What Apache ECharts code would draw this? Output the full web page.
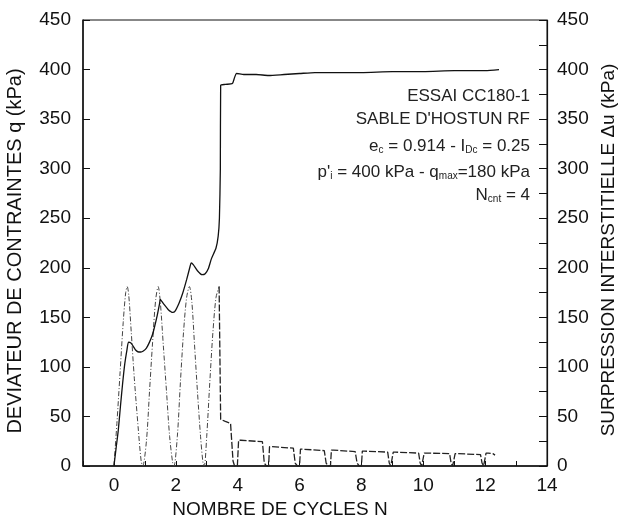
<!DOCTYPE html>
<html>
<head>
<meta charset="utf-8">
<script src="https://cdn.jsdelivr.net/npm/echarts@6/dist/echarts.min.js"></script>
<style>
  html, body { margin: 0; padding: 0; background: #fff; }
  #main { width: 619px; height: 522px; }
</style>
</head>
<body>
<div id="main"></div>
<script>
// Nombre de cycles N / déviateur q (kPa), partie cyclique
var qCyclesN = [0, 0.1, 0.2, 0.3, 0.38, 0.43, 0.48, 0.56, 0.66, 0.78, 0.88, 0.93,
    1.05, 1.15, 1.25, 1.35, 1.43, 1.5, 1.6, 1.7, 1.8, 1.9, 1.94,
    2.05, 2.15, 2.25, 2.35, 2.44, 2.52, 2.6, 2.7, 2.8, 2.88, 2.92,
    3.0, 3.1, 3.2, 3.3, 3.4];
var qCycles = [0, 45, 95, 145, 175, 181, 172, 135, 88, 40, 5, 0,
    25, 75, 125, 168, 181, 165, 120, 75, 30, 3, 0,
    30, 85, 135, 170, 181, 165, 125, 75, 30, 3, 0,
    30, 85, 135, 170, 181];

// déviateur après liquéfaction (paliers)
var qStepsN = [3.4, 3.45, 3.6, 3.77, 3.85, 3.9, 3.99,
    4.03, 4.1, 4.8, 4.86, 4.93, 5.0,
    5.03, 5.1, 5.8, 5.86, 5.93, 6.0,
    6.03, 6.1, 6.8, 6.86, 6.93, 7.0,
    7.03, 7.1, 7.8, 7.86, 7.93, 8.0,
    8.03, 8.1, 8.85, 8.9, 8.95, 9.0,
    9.03, 9.1, 9.85, 9.9, 9.95, 10.0,
    10.03, 10.1, 10.85, 10.9, 10.95, 11.0,
    11.03, 11.1, 11.85, 11.9, 11.95, 12.0,
    12.03, 12.1, 12.25, 12.32];
var qSteps = [181, 47, 45, 43, 5, 0, 0,
    26, 26, 24.5, 3, 0, 0,
    19.5, 19.5, 18, 3, 0, 0,
    17, 17, 15.5, 3, 0, 0,
    16, 16, 14.5, 3, 0, 0,
    15, 15, 14, 3, 0, 0,
    14, 14, 13, 3, 0, 0,
    13, 13, 12.5, 3, 0, 0,
    12.5, 12.5, 11.5, 3, 0, 0,
    13, 13, 12.5, 11];

// surpression interstitielle du (kPa)
var duN = [0, 0.07, 0.14, 0.21, 0.28, 0.35, 0.42, 0.47, 0.55, 0.62, 0.7, 0.8, 0.87,
    0.95, 1.05, 1.15, 1.25, 1.31, 1.4, 1.47, 1.5, 1.55, 1.62, 1.75, 1.9, 1.97,
    2.1, 2.22, 2.35, 2.45, 2.5, 2.57, 2.7, 2.85, 2.95, 3.05, 3.15, 3.3, 3.37,
    3.41, 3.44, 3.45, 3.6, 3.83, 3.9, 3.96, 4.2, 4.6, 5.0, 5.5, 6.0, 6.5, 7.0,
    8.0, 9.0, 10.0, 11.0, 12.0, 12.45];
var du = [0, 18, 36, 60, 83, 103, 117, 125, 124, 121, 117, 115, 115,
    116, 119, 125, 133, 140, 152, 163, 168, 166, 163, 158, 155, 156,
    164, 174, 188, 200, 205, 203, 197, 193, 194, 199, 209, 220, 232,
    250, 300, 384, 385, 386, 392, 396, 395, 395, 394, 395, 396, 397, 397,
    397, 398, 398, 399, 399, 400];

var xTicks = [0, 2, 4, 6, 8, 10, 12, 14];

// texte de l'essai, une ligne par élément
var infoLines = [
    'ESSAI CC180-1',
    'SABLE D\'HOSTUN RF',
    'e{s|c} = 0.914 - I{s|Dc} = 0.25',
    'p\'{s|i} = 400 kPa - q{s|max}=180 kPa',
    'N{s|cnt} = 4'
];
var infoY = [96, 119, 146, 172, 195];

function pairs(xs, ys) {
    return xs.map(function (x, i) { return [x, ys[i]]; });
}

var myChart = echarts.init(document.getElementById('main'));
var font = '"Liberation Sans", Arial, sans-serif';

var option = {
    animation: false,
    backgroundColor: '#fff',
    grid: {
        left: 83, right: 72, top: 20, bottom: 56,
        outerBoundsMode: 'none',
        show: true, borderColor: '#111', borderWidth: 1
    },
    xAxis: {
        type: 'value',
        min: -1, max: 14, interval: 1,
        name: 'NOMBRE DE CYCLES N',
        nameLocation: 'middle',
        nameGap: 30,
        nameTextStyle: { fontFamily: font, fontSize: 19, color: '#111', padding: [0, 70, 0, 0] },
        axisLine: { onZero: false, lineStyle: { color: '#111', width: 1.5 } },
        axisTick: { inside: true, length: 5, lineStyle: { color: '#111' } },
        axisLabel: {
            fontFamily: font, fontSize: 19, color: '#111', margin: 10,
            formatter: function (v) { return xTicks.indexOf(v) >= 0 ? String(v) : ''; }
        },
        splitLine: { show: false }
    },
    yAxis: [
        {
            type: 'value',
            min: 0, max: 450, interval: 50,
            name: 'DEVIATEUR DE CONTRAINTES q (kPa)',
            nameLocation: 'middle',
            nameGap: 58,
            nameTextStyle: { fontFamily: font, fontSize: 20, color: '#111', padding: [0, 16, 0, 0] },
            axisLine: { show: true, onZero: false, lineStyle: { color: '#111', width: 1.5 } },
            axisTick: { show: true, inside: true, length: 7, lineStyle: { color: '#111' } },
            axisLabel: { fontFamily: font, fontSize: 19, color: '#111', margin: 12 },
            splitLine: { show: false }
        },
        {
            type: 'value',
            position: 'right',
            min: 0, max: 450, interval: 25,
            name: 'SURPRESSION INTERSTITIELLE \u0394u (kPa)',
            nameLocation: 'middle',
            nameGap: 50,
            nameTextStyle: { fontFamily: font, fontSize: 19, color: '#111', padding: [0, 14, 0, 0] },
            axisLine: { show: true, onZero: false, lineStyle: { color: '#111', width: 1.2 } },
            axisTick: { show: true, inside: true, length: 8, lineStyle: { color: '#111' } },
            axisLabel: {
                fontFamily: font, fontSize: 19, color: '#111', margin: 10,
                formatter: function (v) { return v % 50 === 0 ? String(v) : ''; }
            },
            splitLine: { show: false }
        }
    ],
    graphic: infoLines.map(function (t, i) {
        return {
            type: 'text',
            x: 530,
            y: infoY[i],
            style: {
                text: t,
                font: '17px ' + font,
                fill: '#222',
                align: 'right',
                verticalAlign: 'middle',
                rich: {
                    s: { fontSize: 10, fontFamily: font, fill: '#222', padding: [8, 0, 0, 0] }
                }
            }
        };
    }),
    series: [
        {
            name: 'q',
            type: 'line',
            yAxisIndex: 0,
            data: pairs(qCyclesN, qCycles),
            smooth: 0.3,
            showSymbol: false,
            lineStyle: { color: '#444', width: 1, type: [5, 2, 1, 2] }
        },
        {
            name: 'q paliers',
            type: 'line',
            yAxisIndex: 0,
            data: pairs(qStepsN, qSteps),
            showSymbol: false,
            lineStyle: { color: '#222', width: 1.3, type: [7, 2] }
        },
        {
            name: '\u0394u',
            type: 'line',
            yAxisIndex: 1,
            data: pairs(duN, du),
            smooth: 0.2,
            showSymbol: false,
            lineStyle: { color: '#111', width: 1.3 }
        }
    ]
};

myChart.setOption(option);
</script>
</body>
</html>
